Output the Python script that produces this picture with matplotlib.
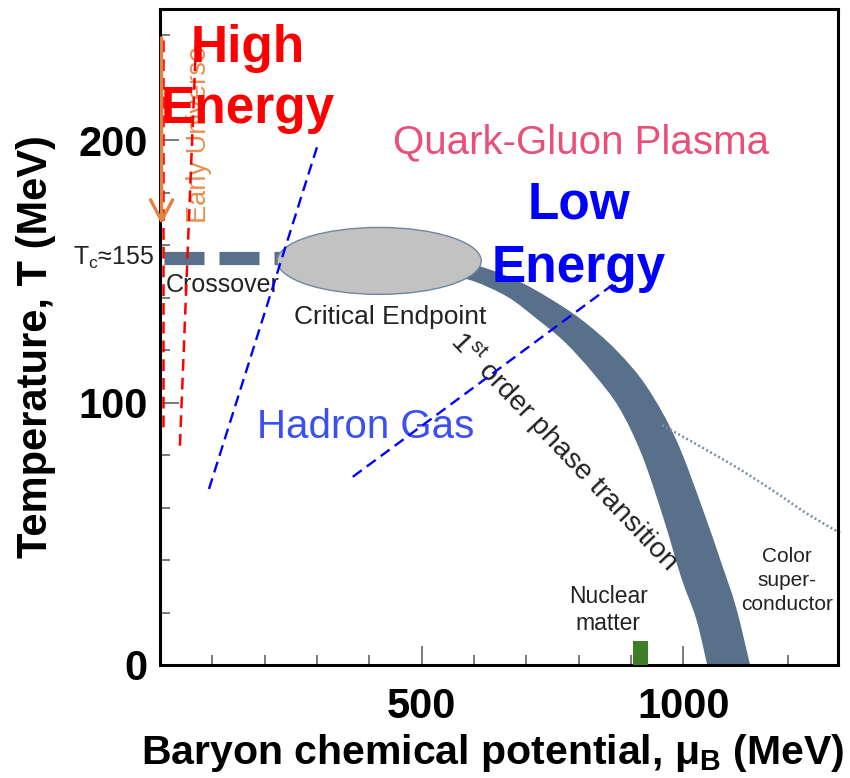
import matplotlib
matplotlib.use("Agg")
import numpy as np
import matplotlib.pyplot as plt
from matplotlib.patches import Ellipse, PathPatch
from matplotlib.path import Path
from matplotlib.transforms import blended_transform_factory

plt.rcParams['font.family'] = ['Liberation Sans', 'DejaVu Sans']
plt.rcParams['mathtext.default'] = 'regular'
plt.rcParams['lines.scale_dashes'] = False

# ---------------- data ----------------
mu_range = (0, 1296)          # baryon chemical potential (MeV)
T_range = (0, 250)            # temperature (MeV)
x_major_ticks = [500, 1000]
x_major_labels = ['500', '1000']
x_minor_ticks = [100, 200, 300, 400, 600, 700, 800, 900, 1100, 1200]
y_major_ticks = [0, 100, 200]
y_major_labels = ['0', '100', '200']
y_minor_ticks = [20, 40, 60, 80, 120, 140, 160, 180, 220, 240]

T_c = 155                     # pseudo-critical temperature
crossover_mu = [8, 300]

# critical end point region
cep_mu, cep_T = 419, 154
cep_width, cep_height = 390, 25.5

# first-order transition band (outer and inner edges)
band_outer_mu = [553, 610, 681, 744, 807, 872, 931, 987, 1036, 1073, 1101, 1128]
band_outer_T = [153.9, 152.0, 146.7, 139.8, 131.4, 120.0, 105.9, 85.7, 60.2, 38.9, 22.1, 0]
band_inner_mu = [553, 599, 665, 721, 774, 828, 878, 922, 964, 996, 1025, 1046]
band_inner_T = [148.2, 146.3, 140.2, 131.8, 123.0, 111.2, 97.9, 79.6, 54.9, 33.5, 17.5, 0]

# colour-superconductor boundary
csc_mu = [960, 1088, 1170, 1235, 1300]
csc_T = [91.4, 77.0, 66.7, 57.9, 50.3]

# nuclear matter
nuclear_mu, nuclear_width, nuclear_T = 918, 28, 9

# early-universe trajectory
early_mu = 3
early_T = [239, 168]

# high-energy collision trajectories
high1_mu, high1_T = [6, 6], [238, 89.5]
high2_mu, high2_T = [69, 38], [238, 83]

# low-energy collision trajectories
low1_mu, low1_T = [300, 90], [197.3, 64.8]
low2_mu, low2_T = [866, 365], [145, 71.2]

# ---------------- colours ----------------
slate = '#587089'
slate_light = '#7a90a6'
qgp_pink = '#e8507a'
hadron_blue = '#3c50f0'
orange = '#e4823f'


def smooth_verts(xs, ys):
    """Catmull-Rom curve through the points, returned as cubic Bezier pieces."""
    pts = np.column_stack([xs, ys]).astype(float)
    n = len(pts)
    verts = [pts[0]]
    codes = [Path.MOVETO]
    for i in range(n - 1):
        p0 = pts[max(i - 1, 0)]
        p1 = pts[i]
        p2 = pts[i + 1]
        p3 = pts[min(i + 2, n - 1)]
        verts += [p1 + (p2 - p0) / 6.0, p2 - (p3 - p1) / 6.0, p2]
        codes += [Path.CURVE4] * 3
    return verts, codes


fig = plt.figure(figsize=(8.5, 7.78), dpi=100)
ax = fig.add_axes([160 / 850, 113 / 778, 678 / 850, 656 / 778])
ax.set_xlim(*mu_range)
ax.set_ylim(*T_range)

for s in ax.spines.values():
    s.set_linewidth(2.2)
    s.set_color('black')

ax.set_xticks(x_major_ticks)
ax.set_xticklabels(x_major_labels)
ax.set_xticks(x_minor_ticks, minor=True)
ax.set_yticks(y_major_ticks)
ax.set_yticklabels(y_major_labels)
ax.set_yticks(y_minor_ticks, minor=True)
ax.tick_params(which='both', direction='in', color='#555555', width=1.1,
               top=False, right=False)
ax.tick_params(which='major', length=14)
ax.tick_params(which='minor', length=7)
ax.tick_params(axis='x', which='major', pad=16)
ax.tick_params(axis='y', which='major', pad=9)
for lab in ax.get_xticklabels() + ax.get_yticklabels():
    lab.set_fontsize(30)
    lab.set_fontweight('bold')

fig.text(493 / 850, 1 - 764 / 778,
         r'Baryon chemical potential, $\mu_B$ (MeV)',
         ha='center', va='baseline', fontsize=29.5, fontweight='bold')
fig.text(36 / 850, 1 - 347 / 778, 'Temperature, T (MeV)', rotation=90,
         ha='center', va='center', fontsize=30, fontweight='bold')

# pseudo-critical temperature label on the axis
ytrans = blended_transform_factory(ax.transAxes, ax.transData)
ax.text(-0.008, T_c, r'T$_c$≈155', transform=ytrans, ha='right', va='center',
        fontsize=18, color='#222222', clip_on=False)

# first-order band
ov, oc = smooth_verts(band_outer_mu, band_outer_T)
iv, ic = smooth_verts(band_inner_mu[::-1], band_inner_T[::-1])
ic[0] = Path.LINETO
verts = ov + iv + [ov[0]]
codes = oc + ic + [Path.CLOSEPOLY]
ax.add_patch(PathPatch(Path(verts, codes), facecolor=slate, edgecolor='none',
                       zorder=2))

# crossover
ax.plot(crossover_mu, [T_c, T_c], color=slate, lw=9.5, solid_capstyle='butt',
        dash_capstyle='butt', dashes=(28.8, 10.8), zorder=2)

# critical end point
ax.add_patch(Ellipse((cep_mu, cep_T), cep_width, cep_height, facecolor='#c2c2c2',
                     edgecolor='#6f879e', lw=1.0, zorder=3))

# colour superconductor boundary
cv, cc = smooth_verts(csc_mu, csc_T)
ax.add_patch(PathPatch(Path(cv, cc), facecolor='none', edgecolor=slate_light,
                       lw=1.9, linestyle=(0, (1.4, 1.9)), zorder=2,
                       clip_on=False))

# nuclear matter
ax.bar([nuclear_mu], [nuclear_T], width=nuclear_width, color='#3d7d25',
       zorder=3)

# collision trajectories
ax.plot(high1_mu, high1_T, color='#ff0000', lw=1.8, dashes=(8.5, 5), zorder=5)
ax.plot(high2_mu, high2_T, color='#ff0000', lw=1.8, dashes=(8.5, 5), zorder=5)
ax.plot(low1_mu, low1_T, color='#0000ff', lw=1.7, dashes=(8, 4.5), zorder=5)
ax.plot(low2_mu, low2_T, color='#0000ff', lw=1.7, dashes=(8, 4.5), zorder=5)

# early universe arrow
ax.annotate('', xy=(early_mu, early_T[1]), xytext=(early_mu, early_T[0]),
            arrowprops=dict(arrowstyle='->,head_length=0.75,head_width=0.4',
                            color=orange, lw=2.4, mutation_scale=20,
                            shrinkA=0, shrinkB=0), zorder=5.5)
ax.text(74, 202, 'Early Universe', rotation=90, ha='center', va='center',
        fontsize=19.5, color=orange, alpha=0.9, zorder=4)

# region labels
ax.text(805, 195, 'Quark-Gluon Plasma', ha='center', va='baseline',
        fontsize=29, color=qgp_pink, zorder=4)
ax.text(394, 86.5, 'Hadron Gas', ha='center', va='baseline',
        fontsize=29, color=hadron_blue, zorder=4)
ax.text(11, 142, 'Crossover', ha='left', va='baseline', fontsize=18,
        color='#222222', zorder=4)
ax.text(440, 130, 'Critical Endpoint', ha='center', va='baseline', fontsize=19,
        color='#222222', zorder=4)
ax.text(553, 123, r'1$^{st}$ order phase transition', rotation=-46.5,
        rotation_mode='anchor', ha='left', va='baseline', fontsize=20.5,
        color='#222222', zorder=4)
ax.text(857, 23.6, 'Nuclear', ha='center', va='baseline', fontsize=16.5,
        color='#222222', zorder=4)
ax.text(857, 13.3, 'matter', ha='center', va='baseline', fontsize=16.5,
        color='#222222', zorder=4)
ax.text(1199, 39.2, 'Color', ha='center', va='baseline', fontsize=15,
        color='#222222', zorder=4)
ax.text(1199, 30.1, 'super-', ha='center', va='baseline', fontsize=15,
        color='#222222', zorder=4)
ax.text(1199, 21.0, 'conductor', ha='center', va='baseline', fontsize=15,
        color='#222222', zorder=4)

# energy regime labels
ax.text(168, 229.7, 'High', ha='center', va='baseline', fontsize=37,
        fontweight='bold', color='#ff0000', zorder=6)
ax.text(168, 206.5, 'Energy', ha='center', va='baseline', fontsize=37,
        fontweight='bold', color='#ff0000', zorder=6)
ax.text(801, 170.3, 'Low', ha='center', va='baseline', fontsize=37,
        fontweight='bold', color='#0000ff', zorder=6)
ax.text(801, 145.9, 'Energy', ha='center', va='baseline', fontsize=37,
        fontweight='bold', color='#0000ff', zorder=6)

fig.savefig('out.png', dpi=100)
